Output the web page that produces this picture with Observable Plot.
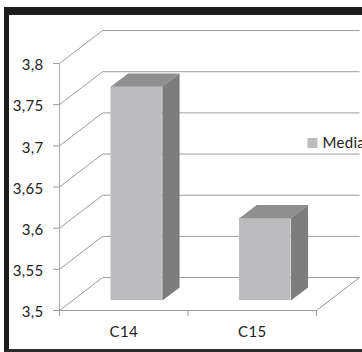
<!DOCTYPE html>
<html>
<head>
<meta charset="utf-8">
<script src="https://cdn.jsdelivr.net/npm/d3@7"></script>
<script src="https://cdn.jsdelivr.net/npm/@observablehq/plot@0.6"></script>
<style>
  html, body { margin: 0; padding: 0; background: #fff; overflow: hidden; }
  #wrap { position: relative; width: 362px; height: 352px; overflow: hidden; }
  #chart { position: absolute; left: 0; top: 0; }
  #frame {
    position: absolute; left: 4px; top: 7px; width: 420px; height: 334px;
    border-top: 8px solid #1c1c1c; border-left: 5px solid #1c1c1c; border-bottom: 3px solid #2a2a2a;
    pointer-events: none;
  }
</style>
</head>
<body>
<div id="wrap"><div id="chart"></div><div id="frame"></div></div>
<script>
const categories = ["C14", "C15"];
const media = [3.76, 3.6];
const yTicks = [3.5, 3.55, 3.6, 3.65, 3.7, 3.75, 3.8];
const seriesName = "Media";

// Oblique projection: one unit of depth moves a point KX along x (category units) and KY along y (axis units)
const KX = 0.335, KY = 0.04;
const barWidth = 0.4, depthFront = 0.3, depthBack = 0.7;
const yMin = yTicks[0];
const yMax = yTicks[yTicks.length - 1];
const n = categories.length;

const gridColor = "#9c9c9c";
const frontColor = "#bcbcbe";
const topColor = "#8f8f8f";
const sideColor = "#7d7d7d";
const textColor = "#222";

const bars = categories.map((c, i) => ({
  c, v: media[i],
  x0: i + 0.5 - barWidth / 2,
  x1: i + 0.5 + barWidth / 2
}));

const P = (x, y, d, key) => ({x: x + d * KX, y: y + d * KY, key});
const topFaces = bars.flatMap(b => [
  P(b.x0, b.v, depthFront, b.c), P(b.x1, b.v, depthFront, b.c),
  P(b.x1, b.v, depthBack, b.c), P(b.x0, b.v, depthBack, b.c)
]);
const sideFaces = bars.flatMap(b => [
  P(b.x1, yMin, depthFront, b.c), P(b.x1, b.v, depthFront, b.c),
  P(b.x1, b.v, depthBack, b.c), P(b.x1, yMin, depthBack, b.c)
]);

const fmt = d => String(d).replace(".", ",");

const chart = Plot.plot({
  width: 362,
  height: 352,
  marginLeft: 59,
  marginRight: 46,
  marginTop: 63,
  marginBottom: 42,
  style: {fontFamily: "Lato, sans-serif", fontSize: "15px", letterSpacing: "0.3px", background: "transparent", color: textColor},
  x: {domain: [0, n], axis: null},
  y: {domain: [yMin, yMax], axis: null},
  marks: [
    // left side wall
    Plot.link(yTicks, {x1: () => 0, y1: d => d, x2: () => KX, y2: d => d + KY, stroke: gridColor}),
    // back wall gridlines
    Plot.link(yTicks, {x1: () => KX, y1: d => d + KY, x2: () => n + KX, y2: d => d + KY, stroke: gridColor}),
    // floor edges
    Plot.link([yMin], {x1: () => 0, y1: d => d, x2: () => n, y2: d => d, stroke: gridColor}),
    Plot.link([yMin], {x1: () => n, y1: d => d, x2: () => n + KX, y2: d => d + KY, stroke: gridColor}),
    // value axis line
    Plot.ruleX([0], {y1: yMin, y2: yMax, stroke: "#aaa"}),
    Plot.axisY(yTicks, {anchor: "left", label: null, tickSize: 6, stroke: gridColor, fill: "none"}),
    Plot.axisY(yTicks, {anchor: "left", label: null, tickSize: 0, tickPadding: 16, dy: 2, fill: textColor, tickFormat: fmt}),
    Plot.axisX(d3.range(n + 1), {anchor: "bottom", label: null, tickSize: 6, stroke: gridColor, fill: "none"}),
    Plot.axisX(categories.map((c, i) => i + 0.5), {anchor: "bottom", label: null, tickSize: 0, tickPadding: 16, fill: textColor, tickFormat: d => categories[Math.floor(d)]}),
    // bars as boxes: front, top and right faces
    Plot.rect(bars, {
      x1: b => b.x0 + depthFront * KX, x2: b => b.x1 + depthFront * KX,
      y1: () => yMin + depthFront * KY, y2: b => b.v + depthFront * KY,
      fill: frontColor
    }),
    Plot.line(topFaces, {x: "x", y: "y", z: "key", fill: topColor, stroke: "none"}),
    Plot.line(sideFaces, {x: "x", y: "y", z: "key", fill: sideColor, stroke: "none"}),
    // legend
    Plot.dot([seriesName], {frameAnchor: "right", dx: -4, dy: -44, symbol: "square", r: 5.64, fill: frontColor, stroke: "none"}),
    Plot.text([seriesName], {text: d => d, frameAnchor: "right", textAnchor: "start", dx: 6, dy: -44, fill: textColor, fontSize: 15})
  ]
});

document.getElementById("chart").appendChild(chart);
</script>
</body>
</html>
